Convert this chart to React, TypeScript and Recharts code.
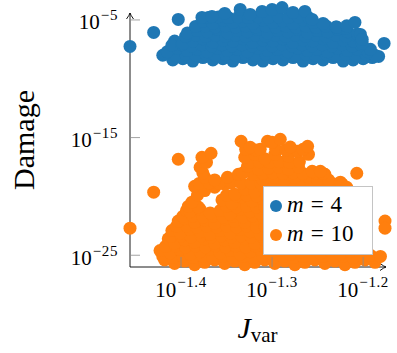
import { ScatterChart, Scatter, XAxis, YAxis, Legend } from 'recharts';

// all values are log10 exponents
const xTickExps = [-1.4, -1.3, -1.2];
const yTickExps = [-25, -15, -5];
const xDomainExp = [-1.456, -1.176];
const yDomainExp = [-26, -3.9];
const seriesLabels = ['4', '10'];
const seriesColors = ['#1f77b4', '#ff7f0e'];

// m = 4 : [log10 Jvar, log10 Damage]
const m4Points: number[][] = [
  [-1.456, -7.25], [-1.43, -6.06], [-1.403, -4.96], [-1.177, -7.0], [-1.407, -6.8],
  [-1.42, -8.0], [-1.409, -8.4], [-1.398, -8.3], [-1.387, -8.5], [-1.376, -8.2], [-1.365, -8.4],
  [-1.354, -8.3], [-1.343, -8.5], [-1.332, -8.2], [-1.321, -8.4], [-1.31, -8.5], [-1.299, -8.3],
  [-1.288, -8.4], [-1.277, -8.2], [-1.266, -8.5], [-1.255, -8.3], [-1.244, -8.4], [-1.233, -8.2],
  [-1.222, -8.5], [-1.211, -8.4], [-1.2, -8.3], [-1.19, -8.2], [-1.183, -8.1],
  [-1.417, -7.9], [-1.406, -8.0], [-1.395, -7.9], [-1.384, -8.0], [-1.373, -7.9], [-1.362, -8.0],
  [-1.351, -7.9], [-1.34, -8.0], [-1.329, -7.9], [-1.318, -8.0], [-1.307, -7.9], [-1.296, -8.0],
  [-1.285, -7.9], [-1.274, -8.0], [-1.263, -7.9], [-1.252, -8.0], [-1.241, -7.9], [-1.23, -8.0],
  [-1.219, -7.9], [-1.208, -8.0], [-1.197, -7.9], [-1.187, -8.0],
  [-1.415, -7.7], [-1.404, -7.4], [-1.393, -7.6], [-1.382, -7.5], [-1.371, -7.7], [-1.36, -7.4],
  [-1.349, -7.6], [-1.338, -7.5], [-1.327, -7.7], [-1.316, -7.4], [-1.305, -7.6], [-1.294, -7.5],
  [-1.283, -7.7], [-1.272, -7.4], [-1.261, -7.6], [-1.25, -7.5], [-1.239, -7.7], [-1.228, -7.4],
  [-1.217, -7.6], [-1.206, -7.5], [-1.195, -7.7],
  [-1.41, -7.15], [-1.399, -7.1], [-1.388, -7.2], [-1.377, -7.1], [-1.366, -7.2], [-1.355, -7.1],
  [-1.344, -7.2], [-1.333, -7.1], [-1.322, -7.2], [-1.311, -7.1], [-1.3, -7.2], [-1.289, -7.1],
  [-1.278, -7.2], [-1.267, -7.1], [-1.256, -7.2], [-1.245, -7.1], [-1.234, -7.2], [-1.223, -7.1],
  [-1.212, -7.2], [-1.202, -7.1], [-1.192, -7.5],
  [-1.398, -7.0], [-1.387, -6.8], [-1.376, -6.6], [-1.365, -6.9], [-1.354, -6.7], [-1.343, -6.8],
  [-1.332, -6.6], [-1.321, -6.9], [-1.31, -6.7], [-1.299, -6.8], [-1.288, -6.6], [-1.277, -6.9],
  [-1.266, -6.7], [-1.255, -6.8], [-1.244, -6.6], [-1.233, -6.9], [-1.222, -6.7], [-1.211, -6.8],
  [-1.201, -7.0],
  [-1.395, -6.4], [-1.384, -6.3], [-1.373, -6.4], [-1.362, -6.3], [-1.351, -6.4], [-1.34, -6.3],
  [-1.329, -6.4], [-1.318, -6.3], [-1.307, -6.4], [-1.296, -6.3], [-1.285, -6.4], [-1.274, -6.3],
  [-1.263, -6.4], [-1.252, -6.3], [-1.241, -6.4], [-1.23, -6.3], [-1.219, -6.4], [-1.208, -6.3],
  [-1.393, -6.1], [-1.382, -5.9], [-1.371, -6.0], [-1.36, -5.8], [-1.349, -6.1], [-1.338, -5.9],
  [-1.327, -6.0], [-1.316, -5.8], [-1.305, -6.1], [-1.294, -5.9], [-1.283, -6.0], [-1.272, -5.8],
  [-1.261, -6.1], [-1.25, -5.9], [-1.239, -6.0], [-1.228, -5.8], [-1.217, -6.0], [-1.206, -6.2],
  [-1.384, -5.55], [-1.373, -5.5], [-1.362, -5.6], [-1.351, -5.5], [-1.34, -5.6], [-1.329, -5.5],
  [-1.318, -5.6], [-1.307, -5.5], [-1.296, -5.6], [-1.285, -5.5], [-1.274, -5.6], [-1.263, -5.5],
  [-1.252, -5.6], [-1.241, -5.5], [-1.23, -5.6], [-1.219, -5.7],
  [-1.376, -5.1], [-1.365, -5.3], [-1.354, -5.0], [-1.343, -5.2], [-1.332, -5.1], [-1.321, -5.3],
  [-1.31, -5.0], [-1.299, -5.2], [-1.288, -5.1], [-1.277, -5.3], [-1.266, -5.0], [-1.255, -5.2],
  [-1.244, -5.3],
  [-1.37, -4.8], [-1.359, -4.75], [-1.348, -4.8], [-1.337, -4.75], [-1.326, -4.8], [-1.315, -4.75],
  [-1.304, -4.8], [-1.293, -4.75], [-1.282, -4.8], [-1.271, -4.75], [-1.26, -4.8],
  [-1.377, -4.79], [-1.366, -4.7], [-1.352, -4.45], [-1.335, -4.11], [-1.324, -4.53], [-1.311, -4.28],
  [-1.3, -4.11], [-1.289, -3.95], [-1.277, -4.36], [-1.264, -4.28], [-1.256, -4.96], [-1.229, -5.6],
  [-1.218, -5.5], [-1.209, -5.21], [-1.203, -6.23], [-1.201, -6.66],
];

// m = 10 : [log10 Jvar, log10 Damage]
const m10Points: number[][] = [
  [-1.456, -22.7], [-1.43, -19.64], [-1.403, -16.84], [-1.176, -22.1], [-1.176, -22.7], [-1.207, -18.03],
  [-1.418, -25.4], [-1.407, -25.7], [-1.396, -25.5], [-1.385, -25.8], [-1.374, -25.6], [-1.363, -25.4],
  [-1.352, -25.7], [-1.341, -25.5], [-1.33, -25.8], [-1.319, -25.6], [-1.308, -25.4], [-1.297, -25.7],
  [-1.286, -25.5], [-1.275, -25.8], [-1.264, -25.6], [-1.253, -25.4], [-1.242, -25.7], [-1.231, -25.5],
  [-1.22, -25.8], [-1.209, -25.6], [-1.198, -25.4], [-1.187, -25.6],
  [-1.42, -25.1], [-1.409, -25.2], [-1.398, -25.1], [-1.387, -25.2], [-1.376, -25.1], [-1.365, -25.2],
  [-1.354, -25.1], [-1.343, -25.2], [-1.332, -25.1], [-1.321, -25.2], [-1.31, -25.1], [-1.299, -25.2],
  [-1.288, -25.1], [-1.277, -25.2], [-1.266, -25.1], [-1.255, -25.2], [-1.244, -25.1], [-1.233, -25.2],
  [-1.222, -25.1], [-1.211, -25.2], [-1.2, -25.1], [-1.189, -25.2],
  [-1.423, -24.6], [-1.412, -24.8], [-1.401, -24.5], [-1.39, -24.9], [-1.379, -24.7], [-1.368, -24.5],
  [-1.357, -24.8], [-1.346, -24.6], [-1.335, -24.9], [-1.324, -24.7], [-1.313, -24.5], [-1.302, -24.8],
  [-1.291, -24.6], [-1.28, -24.9], [-1.269, -24.7], [-1.258, -24.5], [-1.247, -24.8], [-1.236, -24.6],
  [-1.225, -24.9], [-1.214, -24.7], [-1.203, -24.9], [-1.192, -25.0], [-1.181, -25.1],
  [-1.417, -24.25], [-1.406, -24.2], [-1.395, -24.3], [-1.384, -24.2], [-1.373, -24.3], [-1.362, -24.2],
  [-1.351, -24.3], [-1.34, -24.2], [-1.329, -24.3], [-1.318, -24.2], [-1.307, -24.3],
  [-1.414, -23.6], [-1.407, -24.0], [-1.396, -23.7], [-1.385, -23.9], [-1.374, -23.6], [-1.363, -24.0],
  [-1.352, -23.7], [-1.341, -23.9], [-1.33, -23.6], [-1.319, -24.0], [-1.308, -23.7],
  [-1.411, -23.4], [-1.4, -23.35], [-1.389, -23.45], [-1.378, -23.35], [-1.367, -23.45], [-1.356, -23.35],
  [-1.345, -23.45], [-1.334, -23.35], [-1.323, -23.45], [-1.312, -23.35],
  [-1.41, -22.9], [-1.401, -23.1], [-1.39, -22.8], [-1.379, -23.0], [-1.368, -23.2], [-1.357, -22.9],
  [-1.346, -23.1], [-1.335, -22.8], [-1.324, -23.0], [-1.313, -23.2],
  [-1.405, -22.55], [-1.394, -22.5], [-1.383, -22.6], [-1.372, -22.5], [-1.361, -22.6], [-1.35, -22.5],
  [-1.339, -22.6], [-1.328, -22.5], [-1.317, -22.6], [-1.308, -22.5],
  [-1.403, -22.1], [-1.396, -21.9], [-1.385, -22.2], [-1.374, -22.0], [-1.363, -22.3], [-1.352, -21.9],
  [-1.341, -22.1], [-1.33, -22.2], [-1.319, -21.9], [-1.308, -22.1],
  [-1.398, -21.7], [-1.387, -21.65], [-1.376, -21.75], [-1.365, -21.65], [-1.354, -21.75], [-1.343, -21.65],
  [-1.332, -21.75], [-1.321, -21.65], [-1.31, -21.75],
  [-1.394, -21.2], [-1.39, -21.3], [-1.379, -21.1], [-1.368, -21.4], [-1.357, -21.2], [-1.346, -21.5],
  [-1.335, -21.1], [-1.324, -21.3], [-1.313, -21.4],
  [-1.392, -20.85], [-1.381, -20.9], [-1.35, -20.85], [-1.339, -20.9], [-1.328, -20.85], [-1.317, -20.9],
  [-1.308, -20.85],
  [-1.388, -20.49], [-1.355, -20.3], [-1.344, -20.6], [-1.333, -20.07], [-1.322, -20.4], [-1.311, -20.2],
  [-1.382, -19.9], [-1.35, -19.9], [-1.339, -19.95], [-1.328, -19.9], [-1.317, -19.95], [-1.306, -19.9],
  [-1.385, -19.14], [-1.374, -19.5], [-1.363, -19.22], [-1.352, -18.96], [-1.341, -19.81], [-1.33, -19.4],
  [-1.319, -19.6], [-1.308, -19.3], [-1.302, -19.2], [-1.291, -19.0], [-1.28, -19.3], [-1.269, -19.1],
  [-1.258, -19.2], [-1.247, -19.0], [-1.236, -19.2],
  [-1.38, -18.9], [-1.369, -18.85], [-1.358, -18.9], [-1.345, -18.85], [-1.334, -18.9], [-1.323, -18.85],
  [-1.312, -18.9], [-1.301, -18.85], [-1.29, -18.9], [-1.279, -18.85], [-1.268, -18.9], [-1.257, -18.85],
  [-1.246, -18.9], [-1.235, -18.85],
  [-1.374, -18.37], [-1.349, -18.37], [-1.363, -18.6], [-1.337, -18.12], [-1.321, -18.12], [-1.31, -18.6],
  [-1.297, -18.4], [-1.286, -18.6], [-1.275, -18.4], [-1.26, -18.37], [-1.25, -18.6], [-1.242, -18.12],
  [-1.238, -18.6], [-1.225, -18.79], [-1.223, -18.96], [-1.218, -19.22],
  [-1.376, -18.0], [-1.332, -18.0], [-1.31, -18.05], [-1.299, -18.0], [-1.288, -18.05], [-1.277, -18.0],
  [-1.266, -18.05], [-1.252, -18.0], [-1.244, -18.05],
  [-1.379, -17.52], [-1.327, -17.44], [-1.315, -17.7], [-1.304, -17.6], [-1.293, -17.5], [-1.282, -17.7],
  [-1.271, -17.5], [-1.256, -17.86], [-1.247, -17.86],
  [-1.372, -17.1], [-1.325, -17.1], [-1.314, -17.05], [-1.303, -17.1], [-1.292, -17.05], [-1.281, -17.1],
  [-1.27, -17.05],
  [-1.377, -16.67], [-1.367, -16.33], [-1.33, -16.67], [-1.319, -16.42], [-1.308, -16.8], [-1.297, -16.42],
  [-1.282, -16.59], [-1.272, -16.16], [-1.26, -16.42],
  [-1.329, -16.0], [-1.318, -16.05], [-1.296, -16.0], [-1.285, -16.05], [-1.266, -16.0],
  [-1.334, -15.31], [-1.324, -15.82], [-1.313, -16.0], [-1.305, -15.31], [-1.3, -15.4], [-1.291, -15.14],
  [-1.28, -15.8], [-1.261, -15.74],
];

const toRows = (pts: number[][]) => pts.map(([jx, dy]) => ({ jvar: 10 ** jx, damage: 10 ** dy }));

const FONT = "'Liberation Serif', 'Times New Roman', serif";

const expLabel = (v: number, digits: number) => Math.log10(v).toFixed(digits).replace('-', '\u2212');

function XTick({ x, y, payload }: any) {
  return (
    <g>
      <line x1={x} x2={x} y1={y} y2={y - 10} stroke="#8c8c8c" strokeWidth={0.8} />
      <text x={x} y={y + 30} textAnchor="middle" fontFamily={FONT} fontSize={21} fill="#000">
        <tspan>10</tspan>
        <tspan dx={1} dy={-10} fontSize={15} letterSpacing={0.6}>{expLabel(payload.value, 1)}</tspan>
      </text>
    </g>
  );
}

function YTick({ x, y, payload }: any) {
  return (
    <g>
      <line x1={x} x2={x + 10} y1={y} y2={y} stroke="#8c8c8c" strokeWidth={0.8} />
      <text x={x - 12} y={y + 9.5} textAnchor="end" fontFamily={FONT} fontSize={21} fill="#000">
        <tspan>10</tspan>
        <tspan dx={1} dy={-9} fontSize={15} letterSpacing={0.6}>{expLabel(payload.value, 0)}</tspan>
      </text>
    </g>
  );
}

const arrow = (tx: number, ty: number, angle: number) => (
  <path
    d={`M ${tx - 6} ${ty - 3.5} Q ${tx - 2} ${ty - 0.6} ${tx} ${ty} Q ${tx - 2} ${ty + 0.6} ${tx - 6} ${ty + 3.5}`}
    transform={`rotate(${angle} ${tx} ${ty})`}
    fill="none"
    stroke="#000"
    strokeWidth={0.9}
  />
);

function XAxisDecor({ viewBox }: any) {
  const { x, y, width } = viewBox;
  const tip = x + width + 1;
  return (
    <g>
      <line x1={x} x2={tip} y1={y} y2={y} stroke="#000" strokeWidth={0.9} />
      {arrow(tip, y, 0)}
      <text x={x + width / 2} y={y + 71} textAnchor="middle" fontFamily={FONT} fill="#000">
        <tspan fontSize={30} fontStyle="italic">J</tspan>
        <tspan fontSize={21} dy={4}>var</tspan>
      </text>
    </g>
  );
}

function YAxisDecor({ viewBox }: any) {
  const { x, y, width, height } = viewBox;
  const ax = x + width;
  const bottom = y + height;
  const top = y + 6;
  const mid = (top + bottom) / 2;
  return (
    <g>
      <line x1={ax} x2={ax} y1={bottom} y2={top} stroke="#000" strokeWidth={0.9} />
      {arrow(ax, top, -90)}
      <text
        x={33.5}
        y={mid}
        transform={`rotate(-90 33.5 ${mid})`}
        textAnchor="middle"
        fontFamily={FONT}
        fontSize={30}
        fill="#000"
      >
        Damage
      </text>
    </g>
  );
}

function LegendBox({ payload }: any) {
  const items = [...(payload ?? [])].sort(
    (a: any, b: any) => seriesLabels.indexOf(a.value) - seriesLabels.indexOf(b.value),
  );
  return (
    <svg width={110} height={69} style={{ display: 'block' }}>
      <rect x={0.5} y={0.5} width={109} height={68} fill="#fff" stroke="#c4c4c4" />
      {items.map((entry: any, i: number) => (
        <g key={entry.value}>
          <circle cx={13} cy={20 + i * 29} r={6} fill={entry.color} />
          <text x={24} y={26 + i * 28.5} fontFamily={FONT} fontSize={23} fill="#000">
            <tspan fontStyle="italic">m</tspan>
            <tspan dx={7}>=</tspan>
            <tspan dx={7}>{entry.value}</tspan>
          </text>
        </g>
      ))}
    </svg>
  );
}

const dot = (color: string) => (props: any) => (
  <circle cx={props.cx} cy={props.cy} r={6.5} fill={color} />
);

export default function App() {
  return (
    <div style={{ position: 'absolute', left: 0, top: 0, background: '#fff' }}>
      <ScatterChart width={397} height={353} margin={{ top: 7, right: 12, bottom: 46, left: 70 }}>
        <XAxis
          type="number"
          dataKey="jvar"
          scale="log"
          domain={[10 ** xDomainExp[0], 10 ** xDomainExp[1]]}
          ticks={xTickExps.map((e) => 10 ** e)}
          interval={0}
          height={40}
          tickSize={0}
          tickMargin={0}
          tickLine={false}
          axisLine={false}
          tick={<XTick />}
          label={{ content: XAxisDecor }}
        />
        <YAxis
          type="number"
          dataKey="damage"
          scale="log"
          domain={[10 ** yDomainExp[0], 10 ** yDomainExp[1]]}
          ticks={yTickExps.map((e) => 10 ** e)}
          interval={0}
          width={60}
          tickSize={0}
          tickMargin={0}
          tickLine={false}
          axisLine={false}
          tick={<YTick />}
          label={{ content: YAxisDecor }}
        />
        <Legend
          layout="vertical"
          align="center"
          verticalAlign="middle"
          content={<LegendBox />}
          wrapperStyle={{ left: 263, top: 186, width: 110, height: 69 }}
        />
        <Scatter
          name={seriesLabels[0]}
          data={toRows(m4Points)}
          fill={seriesColors[0]}
          shape={dot(seriesColors[0])}
          isAnimationActive={false}
        />
        <Scatter
          name={seriesLabels[1]}
          data={toRows(m10Points)}
          fill={seriesColors[1]}
          shape={dot(seriesColors[1])}
          isAnimationActive={false}
        />
      </ScatterChart>
    </div>
  );
}
